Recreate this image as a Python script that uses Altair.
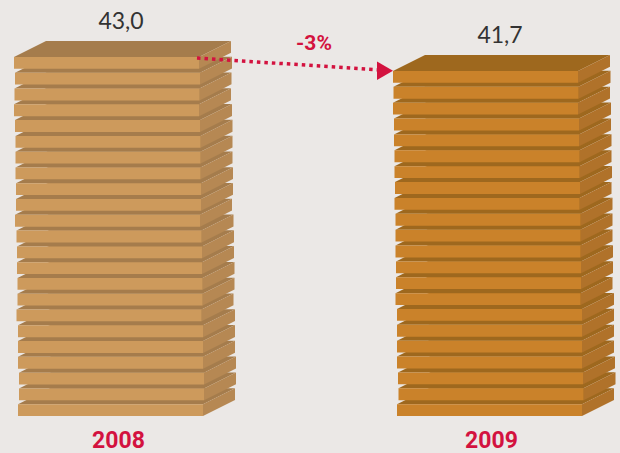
import altair as alt
import pandas as pd

years = ["2008", "2009"]
totals = [43.0, 41.7]
value_labels = ["43,0", "41,7"]
change_label = "-3%"

# Left edge of every slab, listed from the top of each pile down.
slab_left = {
    "2008": [14, 15, 14.5, 14, 15, 15.5, 15.5, 15.5, 16, 16, 15, 16.5,
             17, 17, 17.5, 17.5, 16.5, 18, 18, 18, 19, 19, 18],
    "2009": [393, 393.5, 393, 394, 394, 394.5, 394.5, 395, 394.5, 395.5, 395.5,
             395.5, 396, 396, 395.5, 397, 397, 397, 397, 398, 398.5, 397],
}
face_colors = {
    "2008": {"front": "#cd9a5c", "top": "#a57c4c", "side": "#b68853"},
    "2009": {"front": "#ca822a", "top": "#9e681e", "side": "#b0722a"},
}
year_label_x = [118.5, 491.5]
accent = "#d3123f"
ink = "#333333"
paper = "#ebe8e6"

PILE_BASE = 9.66       # value at which both piles stand
SLAB_THICK = 1.1       # slab thickness in value units
SLAB_WIDTH = 185
DEPTH_X = 32           # oblique depth, horizontal part
DEPTH_Y = 1.49         # oblique depth, vertical part in value units
Y_DOMAIN = [6.23, 48.29]


def slab_faces(year, total):
    """Return the top, side and front polygons of one pile, bottom slab first."""
    lefts = slab_left[year]
    count = len(lefts)
    pitch = (total - PILE_BASE - SLAB_THICK) / (count - 1)
    colors = face_colors[year]
    rows = []
    for level, left in enumerate(reversed(lefts)):
        low = PILE_BASE + level * pitch
        high = low + SLAB_THICK
        right = left + SLAB_WIDTH
        key = f"{year}-{level:02d}"
        shapes = {
            "top": [
                (left, high, high),
                (left + DEPTH_X, high, high + DEPTH_Y),
                (right, high, high + DEPTH_Y),
                (right + DEPTH_X, high + DEPTH_Y, high + DEPTH_Y),
            ],
            "side": [
                (right, low, high),
                (right + DEPTH_X, low + DEPTH_Y, high + DEPTH_Y),
            ],
            "front": [
                (left, low, high),
                (right, low, high),
            ],
        }
        for face, points in shapes.items():
            for x, y, y2 in points:
                rows.append({"x": x, "y": y, "y2": y2, "shape": f"{key}-{face}",
                             "fill": colors[face]})
    return rows


faces = pd.DataFrame(
    [row for year, total in zip(years, totals) for row in slab_faces(year, total)]
)

x_scale = alt.Scale(domain=[0, 620], range=[0, 620], nice=False, zero=False)
y_scale = alt.Scale(domain=Y_DOMAIN, nice=False, zero=False)
X = lambda field: alt.X(field, type="quantitative", scale=x_scale, axis=None)
Y = lambda field: alt.Y(field, type="quantitative", scale=y_scale, axis=None)

piles = alt.Chart(faces).mark_area(orient="vertical", interpolate="linear").encode(
    x=X("x"),
    y=Y("y"),
    y2=alt.Y2("y2"),
    detail="shape:N",
    color=alt.Color("fill:N", scale=None),
)

value_text = alt.Chart(pd.DataFrame({
    "x": [121, 500], "y": totals, "label": value_labels,
})).mark_text(font="Lato", fontSize=23, color=ink, baseline="bottom", dy=-23).encode(
    x=X("x"), y=Y("y"), text="label:N",
)

year_text = alt.Chart(pd.DataFrame({
    "x": year_label_x, "y": [PILE_BASE, PILE_BASE], "label": years,
})).mark_text(font="Roboto", fontWeight="bold", fontSize=23, color=accent,
              baseline="bottom", dy=37).encode(
    x=X("x"), y=Y("y"), text="label:N",
)

# Dotted arrow running from the first pile's level down to the second pile's.
arrow_line = alt.Chart(pd.DataFrame({
    "x": [197, 380], "y": [totals[0] - 0.1, totals[1] + 0.1],
})).mark_line(color=accent, strokeWidth=3.5, strokeDash=[3.5, 4]).encode(
    x=X("x"), y=Y("y"),
)
arrow_head = alt.Chart(pd.DataFrame({
    "x": [385], "y": [totals[1] + 0.02],
})).mark_point(shape="triangle-right", filled=True, opacity=1, color=accent, size=340).encode(
    x=X("x"), y=Y("y"),
)
change_text = alt.Chart(pd.DataFrame({
    "x": [314], "y": [totals[0] + 1.25], "label": [change_label],
})).mark_text(font="Roboto", fontWeight="bold", fontSize=21, color=accent).encode(
    x=X("x"), y=Y("y"), text="label:N",
)

chart = (
    alt.layer(piles, arrow_line, arrow_head, value_text, year_text, change_text)
    .properties(width=620, height=453, background=paper,
                padding=0, autosize=alt.AutoSizeParams(type="none"))
    .configure_view(stroke=None)
)

chart.save("out.html", embed_options={"renderer": "svg", "actions": False})
